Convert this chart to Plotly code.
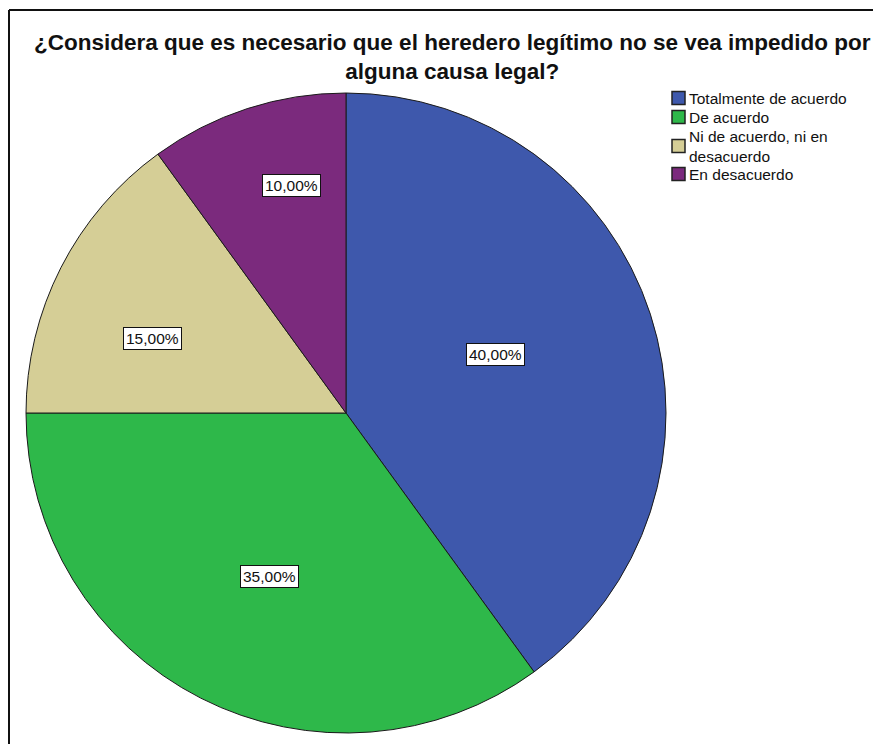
import math
import plotly.graph_objects as go

categories = ["Totalmente de acuerdo", "De acuerdo", "Ni de acuerdo, ni en<br>desacuerdo", "En desacuerdo"]
values = [40, 35, 15, 10]
value_labels = ["40,00%", "35,00%", "15,00%", "10,00%"]
colors = ["#3E58AC", "#2EB84A", "#D5CE96", "#7B2A7D"]
title_text = "¿Considera que es necesario que el heredero legítimo no se vea impedido por<br>alguna causa legal?"

# The page body adds an 8px margin, so the figure covers window pixels 8..881 x 8..744
OFF = 8
W, H = 881 - OFF, 744 - OFF


def px(x):
    return (x - OFF) / W


def py(y):
    return 1 - (y - OFF) / H


cx, cy, R = 346, 413, 320  # pie centre / radius (window pixels)
FONT = "Liberation Sans, Arial, sans-serif"

fig = go.Figure()
fig.add_trace(go.Pie(
    labels=[c.replace("<br>", " ") for c in categories],
    values=values,
    sort=False,
    direction="clockwise",
    rotation=0,
    marker=dict(colors=colors, line=dict(color="#1a1a1a", width=1)),
    textinfo="none",
    hoverinfo="label+percent",
    showlegend=False,
    domain=dict(x=[px(cx - R), px(cx + R)], y=[py(cy + R), py(cy - R)]),
))

annotations = []
shapes = []

# percentage labels near the centroid of each slice (small layout nudges as in the original)
label_nudge = [(-4, -9), (2, 9), (-10, 19), (10, -28)]
total = sum(values)
start = 0.0
for v, lab, (nx, ny) in zip(values, value_labels, label_nudge):
    theta = 2 * math.pi * v / total
    mid = 2 * math.pi * start / total + theta / 2
    d = 2 * math.sin(theta / 2) / (3 * theta / 2) * R
    lx = cx + d * math.sin(mid) + nx
    ly = cy - d * math.cos(mid) + ny
    annotations.append(dict(
        x=px(lx), y=py(ly), xref="paper", yref="paper",
        xanchor="center", yanchor="middle",
        text=lab, showarrow=False,
        font=dict(family=FONT, size=15.5, color="#111"),
        bgcolor="white", bordercolor="#111", borderwidth=1, borderpad=2,
    ))
    start += v

# title
annotations.append(dict(x=px(452), y=py(57.5), xref="paper", yref="paper", showarrow=False,
                        text="<b>" + title_text + "</b>",
                        font=dict(family=FONT, size=22.5, color="#111"),
                        xanchor="center", yanchor="middle", align="center"))

# legend drawn by hand
leg_font = dict(family=FONT, size=15.5, color="#111")
y = 98
item_gap = 19
for cat, col in zip(categories, colors):
    n = cat.count("<br>") + 1
    centre = y + (n - 1) * 10
    shapes.append(dict(type="rect", xref="paper", yref="paper",
                       x0=px(672), x1=px(685), y0=py(centre - 6.5), y1=py(centre + 6.5),
                       fillcolor=col, line=dict(color="#222", width=1.5)))
    annotations.append(dict(x=px(687), y=py(centre), xref="paper", yref="paper",
                            showarrow=False, text=cat, font=leg_font, align="left",
                            xanchor="left", yanchor="middle"))
    y += (n - 1) * 19 + item_gap

# frame lines (top and left)
shapes += [
    dict(type="line", xref="paper", yref="paper", x0=px(9), x1=1, y0=py(10), y1=py(10),
         line=dict(color="#111", width=2)),
    dict(type="line", xref="paper", yref="paper", x0=px(9), x1=px(9), y0=py(10), y1=0,
         line=dict(color="#111", width=2)),
]

fig.update_layout(
    width=W, height=H,
    margin=dict(l=0, r=0, t=0, b=0),
    paper_bgcolor="white",
    plot_bgcolor="white",
    showlegend=False,
    annotations=annotations,
    shapes=shapes,
)

fig.write_html("out.html")
